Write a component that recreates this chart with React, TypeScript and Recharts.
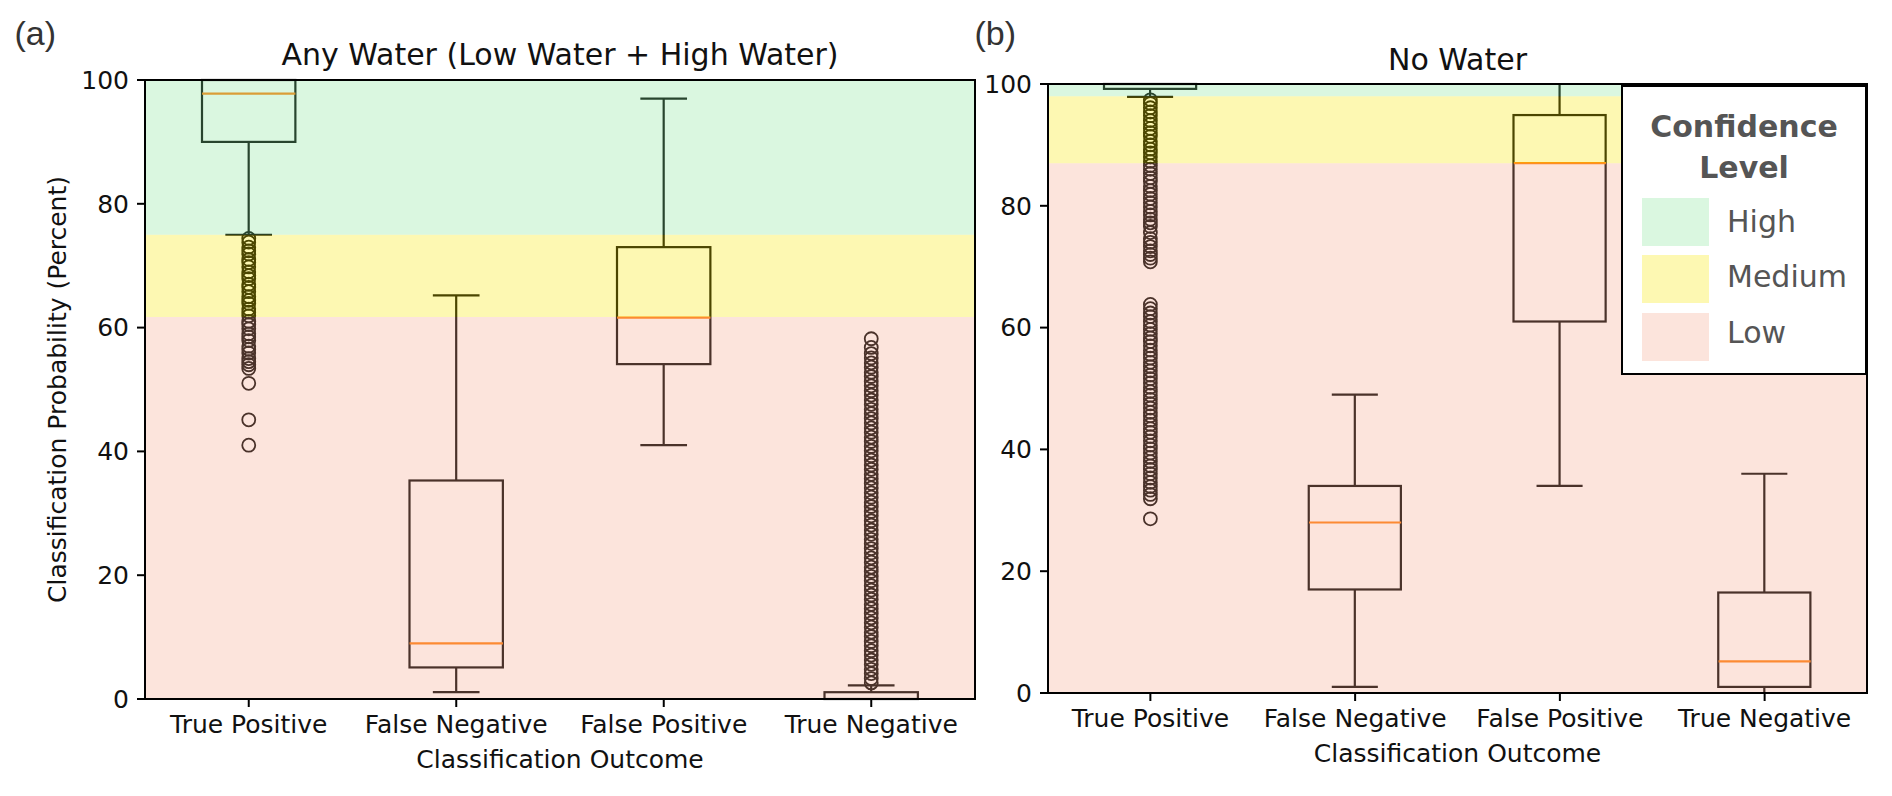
import React from "react";
import {
  ComposedChart,
  Bar,
  Scatter,
  XAxis,
  YAxis,
  ReferenceArea,
  Legend,
} from "recharts";

const CATEGORIES = ["True Positive", "False Negative", "False Positive", "True Negative"];
const Y_TICKS = [0, 20, 40, 60, 80, 100];
const LEVELS = ["High", "Medium", "Low"];

// (a) Any Water (Low Water + High Water)
const A_LOW = [75, 1.1, 41, 0];
const A_Q1 = [90, 5.1, 54.1, 0];
const A_MED = [97.8, 9, 61.6, 0];
const A_Q3 = [100, 35.3, 73, 1.1];
const A_HIGH = [100, 65.2, 97, 2.2];
const A_FLIERS_TP = [
  74.4, 73.8, 73.0, 72.4, 71.9, 71.0, 70.5, 69.8, 69.0, 68.4, 67.9, 67.0,
  66.5, 65.8, 65.0, 64.4, 63.9, 63.0, 62.5, 61.9, 61.0, 60.5, 59.8, 59.0,
  58.5, 57.9, 57.0, 56.5, 55.9, 55.0, 54.5, 54.0, 53.4, 51.0, 45.1, 41.0,
];
const A_FLIERS_TN = [
  2.6, 3.3, 4.1, 4.8, 5.6, 6.3, 7.1, 7.8, 8.6, 9.3, 10.1, 10.8, 11.6, 12.3,
  13.1, 13.8, 14.6, 15.3, 16.1, 16.8, 17.6, 18.3, 19.1, 19.8, 20.6, 21.3,
  22.1, 22.8, 23.6, 24.3, 25.1, 25.8, 26.6, 27.3, 28.1, 28.8, 29.6, 30.3,
  31.1, 31.8, 32.6, 33.3, 34.1, 34.8, 35.6, 36.3, 37.1, 37.8, 38.6, 39.3,
  40.1, 40.8, 41.6, 42.3, 43.1, 43.8, 44.6, 45.3, 46.1, 46.8, 47.6, 48.3,
  49.1, 49.8, 50.6, 51.3, 52.1, 52.8, 53.6, 54.3, 55.1, 55.8, 56.8, 58.2,
];
const A_FLIERS = [A_FLIERS_TP, [], [], A_FLIERS_TN];
// band edges: low | medium | high
const A_BANDS = [0, 61.7, 75, 100];

// (b) No Water
const B_LOW = [97.9, 1, 34, 0];
const B_Q1 = [99.2, 17, 61, 1];
const B_MED = [100, 28, 87, 5.2];
const B_Q3 = [100, 34, 94.9, 16.5];
const B_HIGH = [100, 49, 100, 36];
const B_FLIERS_TP = [
  97.4, 96.8, 96.1, 95.4, 94.8, 94.0, 93.4, 92.7, 92.0, 91.4, 90.6, 90.0,
  89.3, 88.7, 88.0, 87.3, 86.6, 86.0, 85.3, 84.6, 84.0, 83.2, 82.5, 81.9,
  81.2, 80.5, 79.8, 79.1, 78.5, 77.8, 77.2, 76.6, 75.6, 74.6, 74.0, 73.3,
  72.6, 72.0, 71.4, 70.8,
  63.8, 63.1, 62.4, 61.8, 61.0, 60.4, 59.7, 59.0, 58.3, 57.7, 57.0, 56.3,
  55.6, 55.0, 54.3, 53.6, 52.9, 52.2, 51.6, 50.9, 50.2, 49.5, 48.9, 48.2,
  47.5, 46.8, 46.1, 45.5, 44.8, 44.1, 43.4, 42.8, 42.1, 41.4, 40.7, 40.1,
  39.4, 38.7, 38.0, 37.3, 36.7, 36.0, 35.3, 34.6, 33.9, 33.3, 32.6, 31.9,
  28.6,
];
const B_FLIERS = [B_FLIERS_TP, [], [], []];
const B_BANDS = [0, 87, 98, 100];

// translucent overlays (drawn on top, like the original alpha bands)
const BAND_FILLS = ["#F5A58A", "#F8E700", "#84E498"];
const BAND_OPACITY = 0.3;
// the same colours as they look on white, for the legend
const LEVEL_SWATCHES = ["#DAF7E0", "#FDF8B2", "#FCE4DC"];

const TEXT = "#111";
const FONT = "'DejaVu Sans', sans-serif";

function buildRows(low, q1, med, q3, high, fliers) {
  const boxes = CATEGORIES.map((cat, i) => ({
    cat,
    lowerWhisker: [low[i], q1[i]],
    box: [q1[i], q3[i]],
    upperWhisker: [q3[i], high[i]],
    median: med[i],
  }));
  const points = CATEGORIES.flatMap((cat, i) =>
    fliers[i].map((v) => ({ cat, flier: v }))
  );
  return [...boxes, ...points];
}

const A_ROWS = buildRows(A_LOW, A_Q1, A_MED, A_Q3, A_HIGH, A_FLIERS);
const B_ROWS = buildRows(B_LOW, B_Q1, B_MED, B_Q3, B_HIGH, B_FLIERS);

const makeWhisker = (key, capAtTop) => (props) => {
  const { x, y, width, height, payload } = props;
  if (!payload || !payload[key] || !Number.isFinite(x) || !Number.isFinite(y)) return <g />;
  const cx = x + width / 2;
  const top = Math.min(y, y + height);
  const bottom = Math.max(y, y + height);
  const capY = capAtTop ? top : bottom;
  const half = width / 4;
  return (
    <g stroke="#000" strokeWidth={2.2}>
      <line x1={cx} x2={cx} y1={top} y2={bottom} />
      <line x1={cx - half} x2={cx + half} y1={capY} y2={capY} />
    </g>
  );
};

const UpperWhisker = makeWhisker("upperWhisker", true);
const LowerWhisker = makeWhisker("lowerWhisker", false);

const BoxShape = (props) => {
  const { x, y, width, height, payload } = props;
  if (!payload || !payload.box || !Number.isFinite(x) || !Number.isFinite(y)) return <g />;
  const top = Math.min(y, y + height);
  return (
    <rect
      x={x}
      y={top}
      width={width}
      height={Math.abs(height)}
      fill="none"
      stroke="#000"
      strokeWidth={2.2}
    />
  );
};

const makeMedian = (boxWidth) => (props) => {
  const { cx, cy, payload } = props;
  if (!payload || payload.median == null || !Number.isFinite(cy)) return <g />;
  return (
    <line
      x1={cx - boxWidth / 2}
      x2={cx + boxWidth / 2}
      y1={cy}
      y2={cy}
      stroke="#FF7F0E"
      strokeWidth={2.2}
    />
  );
};

const Flier = (props) => {
  const { cx, cy, payload } = props;
  if (!payload || payload.flier == null || !Number.isFinite(cy)) return <g />;
  return <circle cx={cx} cy={cy} r={6.5} fill="none" stroke="#000" strokeWidth={1.8} />;
};

const ConfidenceLegend = () => (
  <div
    style={{
      position: "relative",
      width: 246,
      height: 290,
      boxSizing: "border-box",
      border: "2px solid #000",
      background: "#fff",
      fontFamily: FONT,
      color: "#555",
    }}
  >
    {["Confidence", "Level"].map((t, i) => (
      <div
        key={t}
        style={{
          position: "absolute",
          left: 0,
          width: 242,
          top: 24.6 + i * 41,
          textAlign: "center",
          fontSize: 30,
          lineHeight: "30px",
          fontWeight: "bold",
        }}
      >
        {t}
      </div>
    ))}
    {LEVELS.map((lvl, i) => (
      <React.Fragment key={lvl}>
        <div
          style={{
            position: "absolute",
            left: 19,
            top: [111, 168, 226][i],
            width: 67,
            height: 48,
            background: LEVEL_SWATCHES[i],
          }}
        />
        <div
          style={{
            position: "absolute",
            left: 104,
            top: [119.6, 174.6, 230.6][i],
            fontSize: 30,
            lineHeight: "30px",
            whiteSpace: "nowrap",
          }}
        >
          {lvl}
        </div>
      </React.Fragment>
    ))}
  </div>
);

function BoxPanel({ rows, bands, width, margin, yAxisWidth, xAxisHeight, yLabel, xLabelOffset, legend }) {
  const plotWidth = width - margin.left - margin.right - yAxisWidth;
  const boxWidth = (plotWidth / CATEGORIES.length) * 0.45;
  const Median = makeMedian(boxWidth);
  const tick = { fontSize: 25, fill: TEXT, fontFamily: FONT };
  return (
    <ComposedChart
      width={width}
      height={796}
      data={rows}
      margin={margin}
      barGap={-boxWidth}
    >
      <XAxis
        dataKey="cat"
        type="category"
        allowDuplicatedCategory={false}
        interval={0}
        height={xAxisHeight}
        tick={tick}
        tickSize={8}
        tickMargin={8}
        axisLine={{ stroke: "#000", strokeWidth: 2 }}
        tickLine={{ stroke: "#000", strokeWidth: 2 }}
        label={{
          value: "Classification Outcome",
          position: "insideBottom",
          offset: xLabelOffset,
          style: { fontSize: 25, fill: TEXT, fontFamily: FONT },
        }}
      />
      <YAxis
        type="number"
        domain={[0, 100]}
        ticks={Y_TICKS}
        interval={0}
        width={yAxisWidth}
        tick={tick}
        tickSize={8}
        tickMargin={8}
        axisLine={{ stroke: "#000", strokeWidth: 2 }}
        tickLine={{ stroke: "#000", strokeWidth: 2 }}
        label={
          yLabel
            ? {
                value: yLabel,
                angle: -90,
                position: "insideLeft",
                offset: 57,
                style: { textAnchor: "middle", fontSize: 25, fill: TEXT, fontFamily: FONT },
              }
            : undefined
        }
      />
      <Bar dataKey="lowerWhisker" barSize={boxWidth} shape={LowerWhisker} isAnimationActive={false} />
      <Bar dataKey="box" barSize={boxWidth} shape={BoxShape} isAnimationActive={false} />
      <Bar dataKey="upperWhisker" barSize={boxWidth} shape={UpperWhisker} isAnimationActive={false} />
      <Scatter dataKey="median" shape={Median} isAnimationActive={false} />
      <Scatter dataKey="flier" shape={Flier} isAnimationActive={false} />
      {BAND_FILLS.map((fill, i) => (
        <ReferenceArea
          key={fill}
          y1={bands[i]}
          y2={bands[i + 1]}
          fill={fill}
          fillOpacity={BAND_OPACITY}
          stroke="none"
          zIndex={700}
        />
      ))}
      <ReferenceArea y1={0} y2={100} fill="none" stroke="#000" strokeWidth={2} zIndex={800} />
      {legend ? (
        <Legend
          layout="vertical"
          align="center"
          verticalAlign="middle"
          content={<ConfidenceLegend />}
          wrapperStyle={legend}
        />
      ) : null}
    </ComposedChart>
  );
}

const textBox = (left, top, width, size, family, align) => ({
  position: "absolute",
  left,
  top,
  width,
  fontSize: size,
  lineHeight: `${size}px`,
  fontFamily: family,
  textAlign: align,
  color: TEXT,
  whiteSpace: "nowrap",
});

export default function App() {
  return (
    <div
      style={{
        position: "absolute",
        left: 0,
        top: 0,
        width: 1892,
        height: 796,
        background: "#fff",
        overflow: "hidden",
        fontFamily: FONT,
      }}
    >
      <div style={{ position: "absolute", left: 0, top: 0 }}>
        <BoxPanel
          rows={A_ROWS}
          bands={A_BANDS}
          width={980}
          margin={{ top: 80, right: 5, bottom: 0, left: 0 }}
          yAxisWidth={145}
          xAxisHeight={97}
          yLabel="Classification Probability (Percent)"
          xLabelOffset={28}
        />
      </div>
      <div style={{ position: "absolute", left: 980, top: 0 }}>
        <BoxPanel
          rows={B_ROWS}
          bands={B_BANDS}
          width={912}
          margin={{ top: 84, right: 25, bottom: 0, left: 0 }}
          yAxisWidth={68}
          xAxisHeight={103}
          xLabelOffset={34}
          legend={{ left: 641, top: 85, width: 246, height: 290 }}
        />
      </div>
      <div style={textBox(145, 39.6, 830, 30, FONT, "center")}>
        Any Water (Low Water + High Water)
      </div>
      <div style={textBox(1048, 44.6, 819, 30, FONT, "center")}>No Water</div>
      <div style={{ ...textBox(14.5, 16, 80, 34, "'Liberation Sans', sans-serif", "left"), color: "#333" }}>
        (a)
      </div>
      <div style={{ ...textBox(974.5, 16, 80, 34, "'Liberation Sans', sans-serif", "left"), color: "#333" }}>
        (b)
      </div>
    </div>
  );
}
